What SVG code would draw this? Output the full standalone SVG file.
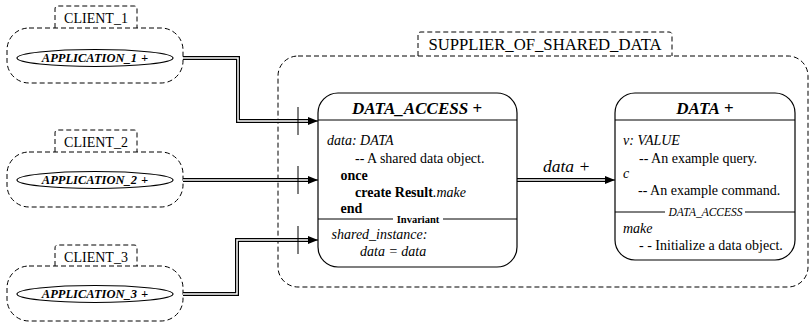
<svg xmlns="http://www.w3.org/2000/svg" width="810" height="323" viewBox="0 0 810 323" font-family="'Liberation Serif', 'Times New Roman', 'DejaVu Serif', serif">
<style>
text{font-family:'Liberation Serif','Times New Roman','DejaVu Serif',serif;fill:#000}
.dash{fill:none;stroke:#000;stroke-width:1;stroke-dasharray:5,3}
.node{fill:#fff;stroke:#000;stroke-width:1.2}
.sep{stroke:#000;stroke-width:1}
.eo{fill:none;stroke:#000;stroke-width:4}
.ei{fill:none;stroke:#fff;stroke-width:1.5}
.tick{stroke:#000;stroke-width:1}
.it{font-style:italic}
.b{font-weight:bold}
.f{font-size:14px}
.cl{font-size:14px}
.app{font-size:12.5px;font-weight:bold;font-style:italic}
</style>
<defs>
<marker id="ah" viewBox="0 0 10 8" refX="10" refY="4" markerWidth="10" markerHeight="8" markerUnits="userSpaceOnUse" orient="auto">
<path d="M0,0 L10,4 L0,8 Z" fill="#000"/>
</marker>
</defs>
<rect width="810" height="323" fill="#fff"/>

<g id="supplier_cluster">
<rect class="dash" x="278" y="56" width="530" height="231" rx="20"/>
<path class="dash" d="M418,56 V35 Q418,32 421,32 H669 Q672,32 672,35 V56"/>
<rect x="420" y="34" width="250" height="20" fill="#fff"/>
<text x="545" y="50" text-anchor="middle" font-size="16.7">SUPPLIER_OF_SHARED_DATA</text>
</g>

<g id="client_1">
<path class="dash" d="M55,28 V9 Q55,6 58,6 H134 Q137,6 137,9 V28"/>
<text x="96" y="23" text-anchor="middle" class="cl">CLIENT_1</text>
<rect class="dash" x="7" y="28" width="176" height="55" rx="22"/>
<ellipse cx="95" cy="58" rx="78" ry="8.5" fill="#fff" stroke="#000" stroke-width="1.2"/>
<text x="95" y="62" text-anchor="middle" class="app">APPLICATION_1<tspan dx="4">+</tspan></text>
</g>

<g id="client_2">
<path class="dash" d="M55,152 V133 Q55,130 58,130 H134 Q137,130 137,133 V152"/>
<text x="96" y="147" text-anchor="middle" class="cl">CLIENT_2</text>
<rect class="dash" x="7" y="152" width="176" height="55" rx="22"/>
<ellipse cx="95" cy="180" rx="78" ry="8.5" fill="#fff" stroke="#000" stroke-width="1.2"/>
<text x="95" y="184" text-anchor="middle" class="app">APPLICATION_2<tspan dx="4">+</tspan></text>
</g>

<g id="client_3">
<path class="dash" d="M55,266 V248 Q55,245 58,245 H134 Q137,245 137,248 V266"/>
<text x="96" y="262" text-anchor="middle" class="cl">CLIENT_3</text>
<rect class="dash" x="7" y="266" width="176" height="55" rx="22"/>
<ellipse cx="95" cy="294" rx="78" ry="8.5" fill="#fff" stroke="#000" stroke-width="1.2"/>
<text x="95" y="298" text-anchor="middle" class="app">APPLICATION_3<tspan dx="4">+</tspan></text>
</g>

<g id="connectors">
<path class="eo" d="M183,58 H238 V121 H308"/>
<path class="ei" d="M183,58 H238 V121 H308"/>
<path d="M308,121 H318" stroke="#000" stroke-width="1" marker-end="url(#ah)"/>
<line class="tick" x1="298" y1="107" x2="298" y2="135"/>

<path class="eo" d="M183,180 H308"/>
<path class="ei" d="M183,180 H308"/>
<path d="M308,180 H318" stroke="#000" stroke-width="1" marker-end="url(#ah)"/>
<line class="tick" x1="298" y1="166" x2="298" y2="194"/>

<path class="eo" d="M183,294 H237 V240 H308"/>
<path class="ei" d="M183,294 H237 V240 H308"/>
<path d="M308,240 H318" stroke="#000" stroke-width="1" marker-end="url(#ah)"/>
<line class="tick" x1="298" y1="226" x2="298" y2="254"/>

<path class="eo" d="M517,180 H605"/>
<path class="ei" d="M517,180 H605"/>
<path d="M605,180 H615" stroke="#000" stroke-width="1" marker-end="url(#ah)"/>
<text x="543" y="172" font-size="17.5" class="it">data +</text>
</g>

<g id="data_access">
<rect class="node" x="318" y="93" width="199" height="174" rx="20"/>
<line class="sep" x1="318" y1="120" x2="517" y2="120"/>
<text x="417" y="114" text-anchor="middle" font-size="17" class="b"><tspan class="it">DATA_ACCESS</tspan> +</text>
<text x="327" y="145" class="f it">data: DATA</text>
<text x="355" y="162.5" class="f">-- A shared data object.</text>
<text x="340.5" y="179.5" class="f b">once</text>
<text x="355" y="196.5" class="f"><tspan class="b">create Result</tspan><tspan class="it">.make</tspan></text>
<text x="340.5" y="213" class="f b">end</text>
<line class="sep" x1="318" y1="219" x2="393" y2="219"/>
<line class="sep" x1="443" y1="219" x2="517" y2="219"/>
<text x="418" y="223" text-anchor="middle" font-size="10.5" class="b">Invariant</text>
<text x="331.5" y="239" class="f it">shared_instance:</text>
<text x="360" y="256" class="f it">data = data</text>
</g>

<g id="data">
<rect class="node" x="615" y="93" width="180" height="167" rx="20"/>
<line class="sep" x1="615" y1="120" x2="795" y2="120"/>
<text x="705" y="114" text-anchor="middle" font-size="17" class="b"><tspan class="it">DATA</tspan> +</text>
<text x="623" y="145" class="f it">v: VALUE</text>
<text x="639" y="163" class="f">-- An example query.</text>
<text x="623" y="178" class="f it">c</text>
<text x="638" y="195" class="f">-- An example command.</text>
<line class="sep" x1="615" y1="212" x2="665" y2="212"/>
<line class="sep" x1="745" y1="212" x2="795" y2="212"/>
<text x="705.5" y="216" text-anchor="middle" font-size="11.5" class="it">DATA_ACCESS</text>
<text x="623" y="233" class="f it">make</text>
<text x="639" y="250" class="f">- - Initialize a data object.</text>
</g>
</svg>
